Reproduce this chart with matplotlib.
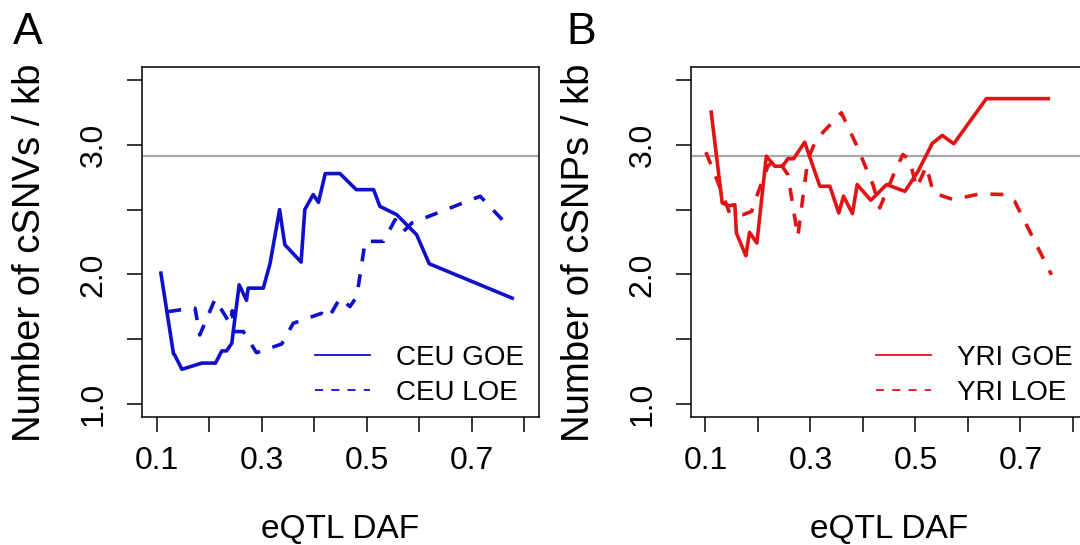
import matplotlib
matplotlib.use("Agg")
import matplotlib.pyplot as plt
from matplotlib.lines import Line2D

plt.rcParams['font.family'] = ['Liberation Sans', 'DejaVu Sans']

# values (eQTL DAF, number per kb)
ceu_goe_x = [0.108, 0.132, 0.134, 0.148, 0.186, 0.212, 0.224, 0.233, 0.243, 0.257,
             0.271, 0.274, 0.303, 0.316, 0.334, 0.344, 0.375, 0.382, 0.398, 0.408,
             0.421, 0.449, 0.480, 0.513, 0.525, 0.557, 0.595, 0.619, 0.777]
ceu_goe_y = [2.01, 1.386, 1.38, 1.268, 1.316, 1.316, 1.41, 1.41, 1.469, 1.92,
             1.80, 1.894, 1.894, 2.087, 2.50, 2.229, 2.095, 2.50, 2.616, 2.556,
             2.778, 2.778, 2.654, 2.654, 2.525, 2.461, 2.306, 2.082, 1.817]

ceu_loe_x = [0.122, 0.144, 0.173, 0.182, 0.211, 0.240, 0.244, 0.246, 0.265, 0.290,
             0.338, 0.360, 0.414, 0.427, 0.449, 0.468, 0.481, 0.497, 0.532, 0.554,
             0.570, 0.586, 0.716, 0.770]
ceu_loe_y = [1.713, 1.726, 1.739, 1.533, 1.809, 1.618, 1.72, 1.559, 1.559, 1.396,
             1.463, 1.623, 1.70, 1.662, 1.817, 1.752, 1.829, 2.255, 2.255, 2.422,
             2.332, 2.397, 2.603, 2.37]

yri_goe_x = [0.111, 0.132, 0.145, 0.156, 0.159, 0.177, 0.184, 0.198, 0.216, 0.232,
             0.247, 0.257, 0.268, 0.289, 0.318, 0.337, 0.354, 0.363, 0.380, 0.389,
             0.415, 0.445, 0.480, 0.505, 0.532, 0.551, 0.573, 0.635, 0.753]
yri_goe_y = [3.252, 2.551, 2.53, 2.538, 2.32, 2.144, 2.324, 2.242, 2.912, 2.835,
             2.835, 2.892, 2.892, 3.02, 2.68, 2.68, 2.474, 2.603, 2.469, 2.693,
             2.572, 2.693, 2.641, 2.796, 3.01, 3.072, 3.008, 3.356, 3.356]

yri_loe_x = [0.101, 0.122, 0.146, 0.172, 0.188, 0.200, 0.219, 0.235, 0.257, 0.276,
             0.295, 0.311, 0.359, 0.388, 0.419, 0.432, 0.457, 0.476, 0.489, 0.502,
             0.521, 0.534, 0.572, 0.622, 0.673, 0.689, 0.759]
yri_loe_y = [2.943, 2.73, 2.474, 2.461, 2.486, 2.629, 2.835, 2.90, 2.77, 2.293,
             2.886, 3.041, 3.247, 2.995, 2.693, 2.513, 2.757, 2.925, 2.886, 2.667,
             2.835, 2.629, 2.577, 2.621, 2.616, 2.564, 1.997]

genome_avg = 2.912

x_ticks = [0.1, 0.2, 0.3, 0.4, 0.5, 0.6, 0.7, 0.8]
x_labels = ['0.1', '', '0.3', '', '0.5', '', '0.7', '']
y_ticks = [1.0, 1.5, 2.0, 2.5, 3.0, 3.5]
y_labels = ['1.0', '', '2.0', '', '3.0', '']

blue = '#1010CC'
red = '#E01414'

W, H = 1080, 545
fig = plt.figure(figsize=(W / 100, H / 100), dpi=100)

def px(x, y):
    return x / W, 1 - y / H

panels = [
    dict(left=142, letter='A', lx=13, ylab='Number of cSNVs / kb', col=blue,
         goe=(ceu_goe_x, ceu_goe_y), loe=(ceu_loe_x, ceu_loe_y),
         names=['CEU GOE', 'CEU LOE']),
    dict(left=690.7, letter='B', lx=566, ylab='Number of cSNPs / kb', col=red,
         goe=(yri_goe_x, yri_goe_y), loe=(yri_loe_x, yri_loe_y),
         names=['YRI GOE', 'YRI LOE']),
]

for p in panels:
    ax = fig.add_axes([p['left'] / W, (H - 417) / H, 397 / W, 350 / H])
    ax.plot(*p['goe'], color=p['col'], lw=2.6)
    ax.plot(*p['loe'], color=p['col'], lw=2.6, dashes=(3.6, 3.6))
    ax.axhline(genome_avg, color='#A8A8A8', lw=1.6, zorder=0)
    ax.set_xlim(0.072, 0.828)
    ax.set_ylim(0.9, 3.6)
    ax.set_xticks(x_ticks)
    ax.set_xticklabels(x_labels, fontsize=23)
    ax.set_yticks(y_ticks)
    ax.set_yticklabels(y_labels, fontsize=23, rotation=90, va='center')
    ax.tick_params(length=11, width=1.1, direction='out', pad=10)
    ax.tick_params(axis='y', pad=13)
    for s in ax.spines.values():
        s.set_linewidth(1.1)

    handles = [Line2D([], [], color=p['col'], lw=1.3),
               Line2D([], [], color=p['col'], lw=1.3, dashes=(4.5, 4.5))]
    ax.legend(handles, p['names'], loc='lower right', bbox_to_anchor=(0.99, 0.0),
              frameon=False, fontsize=20, handlelength=1.95, handletextpad=0.95,
              labelspacing=0.32, borderaxespad=0.0)

    cx = p['left'] + 397 / 2
    fig.text(*px(cx, 538), 'eQTL DAF', fontsize=24, ha='center', va='baseline')
    fig.text(*px(p['left'] - 112, 253), p['ylab'], fontsize=27.5, rotation=90,
             ha='center', va='center')
    fig.text(*px(p['lx'], 44), p['letter'], fontsize=32, ha='left', va='baseline')

fig.savefig('out.png', dpi=100)
